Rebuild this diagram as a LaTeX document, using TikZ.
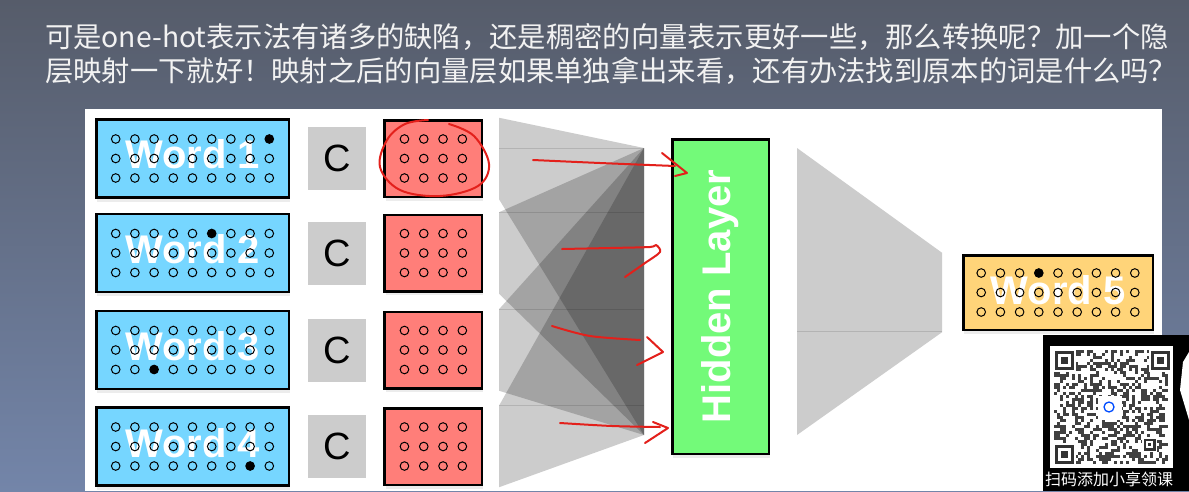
\documentclass[tikz,border=0pt]{standalone}
\usepackage{fontspec}
\setmainfont{Liberation Sans}
\newfontfamily\cjk{Noto Sans CJK SC}
\usepackage{tikz}
\usetikzlibrary{arrows.meta,positioning,shadows}
\usepackage{xcolor}
\definecolor{skyblue}{HTML}{76D6FF}
\definecolor{salmonred}{HTML}{FF7E79}
\definecolor{floragreen}{HTML}{73FA79}
\definecolor{cantaloupe}{HTML}{FFD479}
\definecolor{cgrey}{HTML}{CCCCCC}
\definecolor{penred}{HTML}{E3201B}
\definecolor{bgtop}{HTML}{565C6A}
\definecolor{bgbot}{HTML}{7385A9}

\begin{document}
\begin{tikzpicture}[x=1pt,y=-1pt,>=Latex,
  softshadow/.style={drop shadow={opacity=0.15,shadow xshift=1pt,shadow yshift=-4pt}},
  wordbox/.style={draw=black,line width=2.5pt,minimum width=192.5pt,minimum height=78pt,inner sep=0pt,
    text=white,font=\fontsize{40}{40}\selectfont\bfseries,softshadow},
  cbox/.style={fill=cgrey,minimum width=58pt,minimum height=63pt,inner sep=0pt,font=\fontsize{38}{38}\selectfont},
  embbox/.style={draw=black,fill=salmonred,line width=2.5pt,minimum width=97.5pt,minimum height=76.5pt,inner sep=0pt,softshadow},
  fan/.style={fill=black,opacity=0.2},
  seam/.style={black,opacity=0.12,line width=0.8pt},
  pen/.style={penred,line width=2pt,line cap=round,line join=round},
  title/.style={anchor=base west,inner sep=0pt,text=white!95!black,font=\cjk\fontsize{28.3}{30}\selectfont}]
\useasboundingbox (0,0) rectangle (1189,491);
\shade[top color=bgtop,bottom color=bgbot] (0,0) rectangle (1189,491);
\fill[white] (85,109) rectangle (1162,491);

\node[title] (title1) at (45,47) {可是one-hot表示法有诸多的缺陷，还是稠密的向量表示更好一些，那么转换呢？加一个隐};
\node[title] (title2) at (45,81) {层映射一下就好！映射之后的向量层如果单独拿出来看，还有办法找到原本的词是什么吗？};

% input words, C and the looked-up vectors
\foreach \k/\y in {1/158.5,2/253,3/350,4/446.5}{
  \node[wordbox,fill=skyblue,text depth=8pt] (word\k) at (192.5,\y) {Word \k};
  \node[cbox,right=18pt of word\k] (cbox\k) {C};
  \node[embbox,right=17pt of cbox\k] (emb\k) {};
}
\node[wordbox,fill=cantaloupe,minimum width=189.5pt,minimum height=74.5pt,text depth=5pt] (word5) at (1058,292.5) {Word 5};
\node[draw=black,fill=floragreen,line width=2.5pt,rotate=90,minimum width=314.5pt,minimum height=96.5pt,
  inner sep=0pt,text=white,font=\fontsize{40}{40}\selectfont\bfseries,softshadow] (hidden) at (720.5,296.5) {Hidden Layer};

% one-hot dots
\foreach \n/\fx/\fy in {word1/9/1,word2/6/1,word3/3/3,word4/8/3,word5/4/1}
  \foreach \i in {1,...,9}
    \foreach \j in {1,2,3}{
      \pgfmathparse{(\i==\fx && \j==\fy) ? "black" : "none"}
      \edef\dotfill{\pgfmathresult}
      \draw[line width=1pt,fill=\dotfill] ([shift={({(\i-5)*19.2},{(\j-2)*19.5})}]\n.center) circle (4.3);
    }
\foreach \k in {1,...,4}
  \foreach \i in {1,...,4}
    \foreach \j in {1,2,3}
      \draw[line width=1pt] ([shift={({(\i-2.5)*19.3},{(\j-2)*19.5})}]emb\k.center) circle (4.3);

% projection fans
\coordinate (fanL) at (499,0);
\coordinate (fanT) at (644,148);
\coordinate (fanB) at (644,435);
\foreach \k in {1,...,4}
  \fill[fan] ([yshift=1.25pt]emb\k.north east -| fanL) -- (fanT) -- (fanB) -- ([yshift=-1.25pt]emb\k.south east -| fanL) -- cycle;
\draw[seam] (fanL |- fanT) -- (fanT);
\foreach \k in {2,3,4}
  \draw[seam] ([yshift=1.25pt]emb\k.north east -| fanL) -- ++(145,0);

\coordinate (outT) at (797,148);
\coordinate (outB) at (797,435);
\fill[cgrey] (outT) -- ([xshift=-20pt,yshift=1.25pt]word5.north west) -- ([xshift=-20pt,yshift=-1.25pt]word5.south west) -- (outB) -- cycle;
\draw[seam] (outT |- word5.south west) -- ++(145,0);

% hand-written marks
\draw[pen] plot[smooth,tension=0.6] coordinates {(449,124) (474,136) (489,164) (478,186) (440,196) (400,190) (380,167) (387,140) (405,124) (428,120)};
\draw[pen] plot[smooth] coordinates {(533,160) (600,163) (675,166)};
\draw[pen] (662,153) -- (687,173) -- (675,176);
\draw[pen] plot[smooth] coordinates {(562,249) (610,248) (650,247) (656,245) (660,252) (645,263) (625,277)};
\draw[pen] plot[smooth] coordinates {(552,326) (590,336) (640,340)};
\draw[pen] (647,337) -- (663,352) -- (637,365);
\draw[pen] plot[smooth] coordinates {(560,423) (612,426) (660,427)};
\draw[pen] (653,422) -- (668,428) -- (645,443);

% QR overlay
\fill[black] (1043,335) rectangle (1189,491);
\fill[white] (1050,346) rectangle (1173,468);
\pgfmathsetseed{11}
\foreach \i in {0,...,37}
  \foreach \j in {0,...,37}{
    \pgfmathtruncatemacro\qbit{rnd<0.42 ? 1 : 0}
    \ifnum\qbit=1 \fill[black!75] (1054+\i*3,350+\j*3) rectangle ++(2.6,2.6); \fi
  }
\foreach \fx/\fy in {1054/350,1150/350,1054/444}{
  \fill[white] (\fx-1,\fy-1) rectangle ++(23,23);
  \fill[black!80] (\fx+1,\fy+1) rectangle ++(19,19);
  \fill[white] (\fx+4,\fy+4) rectangle ++(13,13);
  \fill[black!80] (\fx+7,\fy+7) rectangle ++(7,7);
}
\fill[white] (1142,437) rectangle ++(15,15);
\fill[black!80] (1143.5,438.5) rectangle ++(12,12);
\fill[white] (1146,441) rectangle ++(7,7);
\fill[black!80] (1148,443) rectangle ++(3,3);
\fill[white] (1098,396) rectangle ++(24,24);
\draw[blue!70!cyan,line width=1.3pt] (1109,407) circle (5);
\fill[white] (1189,352) -- (1183,362) -- (1180,390) -- (1189,420) -- cycle;
\node[anchor=north west,inner sep=0pt,text=white,font=\cjk\fontsize{16}{16}\selectfont] (qrtext) at (1045,472) {扫码添加小享领课};
\end{tikzpicture}
\end{document}
